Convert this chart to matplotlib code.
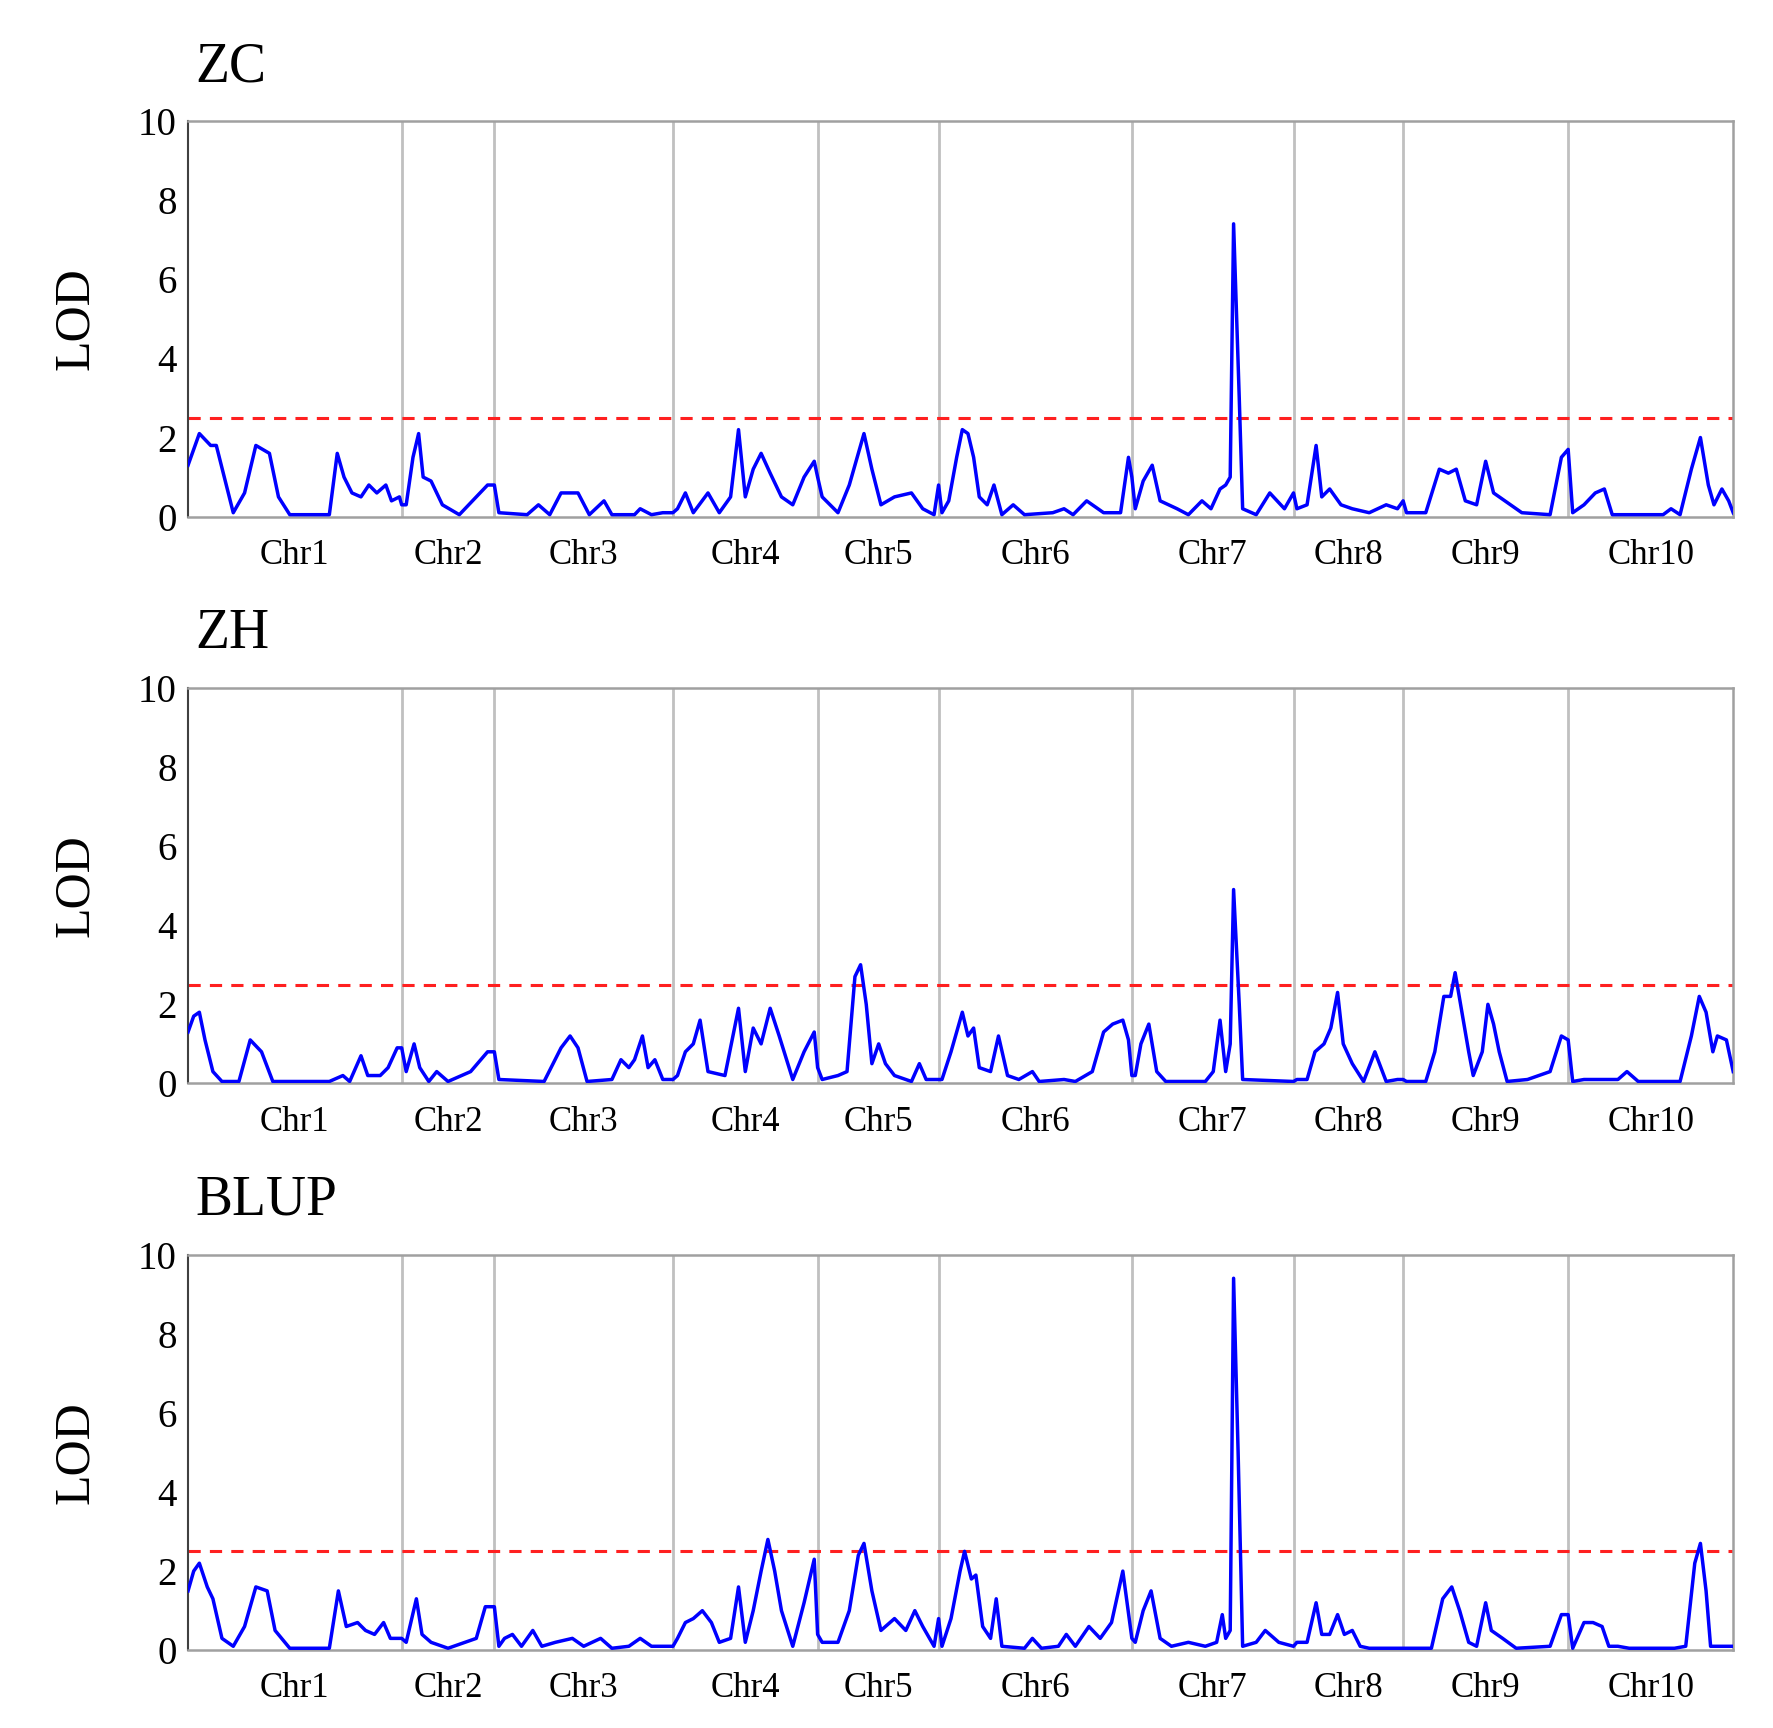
import matplotlib
matplotlib.use("Agg")
import matplotlib.pyplot as plt

plt.rcParams['font.family'] = ['Liberation Serif', 'DejaVu Serif']

chr_bounds = [165, 354, 436, 594, 722, 829, 1000, 1143, 1240, 1386, 1532]
chr_labels = ["Chr1", "Chr2", "Chr3", "Chr4", "Chr5", "Chr6", "Chr7", "Chr8", "Chr9", "Chr10"]
threshold = 2.5
titles = ["ZC", "ZH", "BLUP"]

zc = [(165,1.3),(175,2.1),(185,1.8),(190,1.8),(205,0.1),(215,0.6),(225,1.8),(237,1.6),(245,0.5),(255,0.05),(270,0.05),(290,0.05),(297,1.6),(303,1.0),(310,0.6),(318,0.5),(325,0.8),(332,0.6),(340,0.8),(345,0.4),(352,0.5),(354,0.3),
(358,0.3),(364,1.5),(369,2.1),(373,1.0),(380,0.9),(390,0.3),(405,0.05),(420,0.5),(430,0.8),(436,0.8),
(440,0.1),(465,0.05),(475,0.3),(485,0.05),(495,0.6),(510,0.6),(520,0.05),(533,0.4),(540,0.05),(560,0.05),(565,0.2),(575,0.05),(585,0.1),(594,0.1),
(598,0.2),(605,0.6),(612,0.1),(625,0.6),(635,0.1),(645,0.5),(652,2.2),(658,0.5),(665,1.2),(672,1.6),(680,1.1),(690,0.5),(700,0.3),(710,1.0),(719,1.4),(722,1.0),
(726,0.5),(740,0.1),(750,0.8),(763,2.1),(770,1.2),(778,0.3),(790,0.5),(805,0.6),(815,0.2),(825,0.05),(829,0.8),
(832,0.1),(838,0.4),(845,1.5),(850,2.2),(855,2.1),(860,1.5),(865,0.5),(872,0.3),(878,0.8),(885,0.05),(895,0.3),(905,0.05),(930,0.1),(940,0.2),(948,0.05),(960,0.4),(975,0.1),(990,0.1),(997,1.5),(1000,1.0),
(1003,0.2),(1010,0.9),(1018,1.3),(1025,0.4),(1040,0.2),(1050,0.05),(1062,0.4),(1070,0.2),(1078,0.7),(1083,0.8),(1087,1.0),(1090,7.4),(1095,3.0),(1098,0.2),(1110,0.05),(1122,0.6),(1135,0.2),(1143,0.6),
(1146,0.2),(1155,0.3),(1163,1.8),(1168,0.5),(1175,0.7),(1185,0.3),(1195,0.2),(1210,0.1),(1225,0.3),(1235,0.2),(1240,0.4),
(1243,0.1),(1260,0.1),(1272,1.2),(1280,1.1),(1287,1.2),(1295,0.4),(1305,0.3),(1313,1.4),(1320,0.6),(1330,0.4),(1345,0.1),(1370,0.05),(1380,1.5),(1386,1.7),
(1390,0.1),(1400,0.3),(1410,0.6),(1418,0.7),(1425,0.05),(1450,0.05),(1470,0.05),(1477,0.2),(1485,0.05),(1495,1.2),(1503,2.0),(1510,0.8),(1515,0.3),(1522,0.7),(1528,0.4),(1532,0.1)]

zh = [(165,1.3),(170,1.7),(175,1.8),(180,1.1),(187,0.3),(195,0.05),(210,0.05),(220,1.1),(230,0.8),(240,0.05),(290,0.05),(302,0.2),(308,0.05),(318,0.7),(324,0.2),(335,0.2),(342,0.4),(350,0.9),(354,0.9),
(358,0.3),(365,1.0),(370,0.4),(378,0.05),(385,0.3),(395,0.05),(415,0.3),(430,0.8),(436,0.8),
(440,0.1),(480,0.05),(495,0.9),(503,1.2),(510,0.9),(518,0.05),(540,0.1),(548,0.6),(555,0.4),(560,0.6),(567,1.2),(572,0.4),(578,0.6),(585,0.1),(594,0.1),
(598,0.2),(605,0.8),(612,1.0),(618,1.6),(625,0.3),(640,0.2),(652,1.9),(658,0.3),(665,1.4),(672,1.0),(680,1.9),(688,1.2),(700,0.1),(710,0.8),(719,1.3),(722,0.4),
(726,0.1),(740,0.2),(748,0.3),(755,2.7),(760,3.0),(765,2.0),(770,0.5),(776,1.0),(782,0.5),(790,0.2),(805,0.05),(812,0.5),(818,0.1),(829,0.1),
(832,0.1),(840,0.8),(850,1.8),(855,1.2),(860,1.4),(865,0.4),(875,0.3),(882,1.2),(890,0.2),(900,0.1),(912,0.3),(918,0.05),(940,0.1),(950,0.05),(965,0.3),(975,1.3),(983,1.5),(992,1.6),(997,1.1),(1000,0.2),
(1003,0.2),(1008,1.0),(1015,1.5),(1022,0.3),(1030,0.05),(1065,0.05),(1072,0.3),(1078,1.6),(1083,0.3),(1087,1.0),(1090,4.9),(1095,2.0),(1098,0.1),(1143,0.05),
(1146,0.1),(1155,0.1),(1162,0.8),(1170,1.0),(1176,1.4),(1182,2.3),(1187,1.0),(1195,0.5),(1205,0.05),(1215,0.8),(1225,0.05),(1235,0.1),(1240,0.1),
(1243,0.05),(1260,0.05),(1268,0.8),(1276,2.2),(1282,2.2),(1286,2.8),(1292,1.8),(1298,0.8),(1302,0.2),(1310,0.8),(1315,2.0),(1320,1.5),(1325,0.8),(1332,0.05),(1350,0.1),(1370,0.3),(1380,1.2),(1386,1.1),
(1390,0.05),(1400,0.1),(1430,0.1),(1438,0.3),(1448,0.05),(1485,0.05),(1495,1.2),(1502,2.2),(1508,1.8),(1514,0.8),(1518,1.2),(1526,1.1),(1532,0.3)]

blup = [(165,1.5),(170,2.0),(175,2.2),(182,1.6),(187,1.3),(195,0.3),(205,0.1),(215,0.6),(225,1.6),(235,1.5),(242,0.5),(255,0.05),(290,0.05),(298,1.5),(305,0.6),(315,0.7),(322,0.5),(330,0.4),(338,0.7),(344,0.3),(354,0.3),
(358,0.2),(367,1.3),(372,0.4),(380,0.2),(395,0.05),(420,0.3),(428,1.1),(436,1.1),
(440,0.1),(445,0.3),(452,0.4),(460,0.1),(470,0.5),(478,0.1),(490,0.2),(505,0.3),(515,0.1),(530,0.3),(540,0.05),(555,0.1),(565,0.3),(575,0.1),(594,0.1),
(598,0.3),(605,0.7),(612,0.8),(620,1.0),(628,0.7),(635,0.2),(645,0.3),(652,1.6),(658,0.2),(665,1.0),(672,2.0),(678,2.8),(684,2.0),(690,1.0),(700,0.1),(710,1.2),(719,2.3),(722,0.4),
(726,0.2),(740,0.2),(750,1.0),(758,2.4),(763,2.7),(770,1.5),(778,0.5),(790,0.8),(800,0.5),(808,1.0),(815,0.6),(825,0.1),(829,0.8),
(832,0.1),(840,0.8),(848,2.0),(852,2.5),(858,1.8),(862,1.9),(868,0.6),(875,0.3),(880,1.3),(885,0.1),(905,0.05),(912,0.3),(920,0.05),(935,0.1),(942,0.4),(950,0.1),(962,0.6),(972,0.3),(982,0.7),(992,2.0),(1000,0.3),
(1003,0.2),(1010,1.0),(1017,1.5),(1025,0.3),(1035,0.1),(1050,0.2),(1065,0.1),(1075,0.2),(1080,0.9),(1083,0.3),(1087,0.5),(1090,9.4),(1094,5.0),(1098,0.1),(1110,0.2),(1118,0.5),(1130,0.2),(1143,0.1),
(1146,0.2),(1155,0.2),(1163,1.2),(1168,0.4),(1175,0.4),(1182,0.9),(1188,0.4),(1195,0.5),(1202,0.1),(1210,0.05),(1240,0.05),
(1243,0.05),(1265,0.05),(1275,1.3),(1283,1.6),(1290,1.0),(1298,0.2),(1305,0.1),(1313,1.2),(1318,0.5),(1328,0.3),(1340,0.05),(1370,0.1),(1380,0.9),(1386,0.9),
(1390,0.05),(1400,0.7),(1408,0.7),(1416,0.6),(1422,0.1),(1430,0.1),(1440,0.05),(1480,0.05),(1490,0.1),(1498,2.2),(1503,2.7),(1508,1.5),(1512,0.1),(1532,0.1)]

series = [zc, zh, blup]

fig = plt.figure(figsize=(17.74, 17.28), dpi=100)
bottoms = [0.701, 0.373, 0.045]
for title, data, b in zip(titles, series, bottoms):
    ax = fig.add_axes([0.106, b, 0.871, 0.229])
    xs = [p[0] for p in data]
    ys = [p[1] for p in data]
    for xb in chr_bounds[1:-1]:
        ax.axvline(xb, color='#c0c0c0', lw=2, zorder=1)
    ax.plot(xs, ys, color='#0000ff', lw=2.5, zorder=3)
    ax.axhline(threshold, color='#ff2020', lw=2.2, ls=(0, (4, 3)), zorder=2)
    ax.set_xlim(chr_bounds[0], chr_bounds[-1])
    ax.set_ylim(0, 10)
    ax.set_yticks(range(0, 11, 2))
    centers = [(chr_bounds[i] + chr_bounds[i+1]) / 2 for i in range(len(chr_labels))]
    ax.set_xticks(centers)
    ax.set_xticklabels(chr_labels, fontsize=25)
    ax.tick_params(axis='x', length=0, pad=16)
    ax.tick_params(axis='y', length=0, labelsize=28, pad=8)
    for s in ['top', 'right', 'bottom']:
        ax.spines[s].set_color('#a0a0a0')
        ax.spines[s].set_linewidth(1.8)
    ax.spines['left'].set_color('#404040')
    ax.spines['left'].set_linewidth(1.5)
    ax.set_ylabel('LOD', fontsize=36, labelpad=28)
    ax.text(0.005, 1.07, title, transform=ax.transAxes, fontsize=40, va='bottom', ha='left')

fig.savefig('out.png', dpi=100)
